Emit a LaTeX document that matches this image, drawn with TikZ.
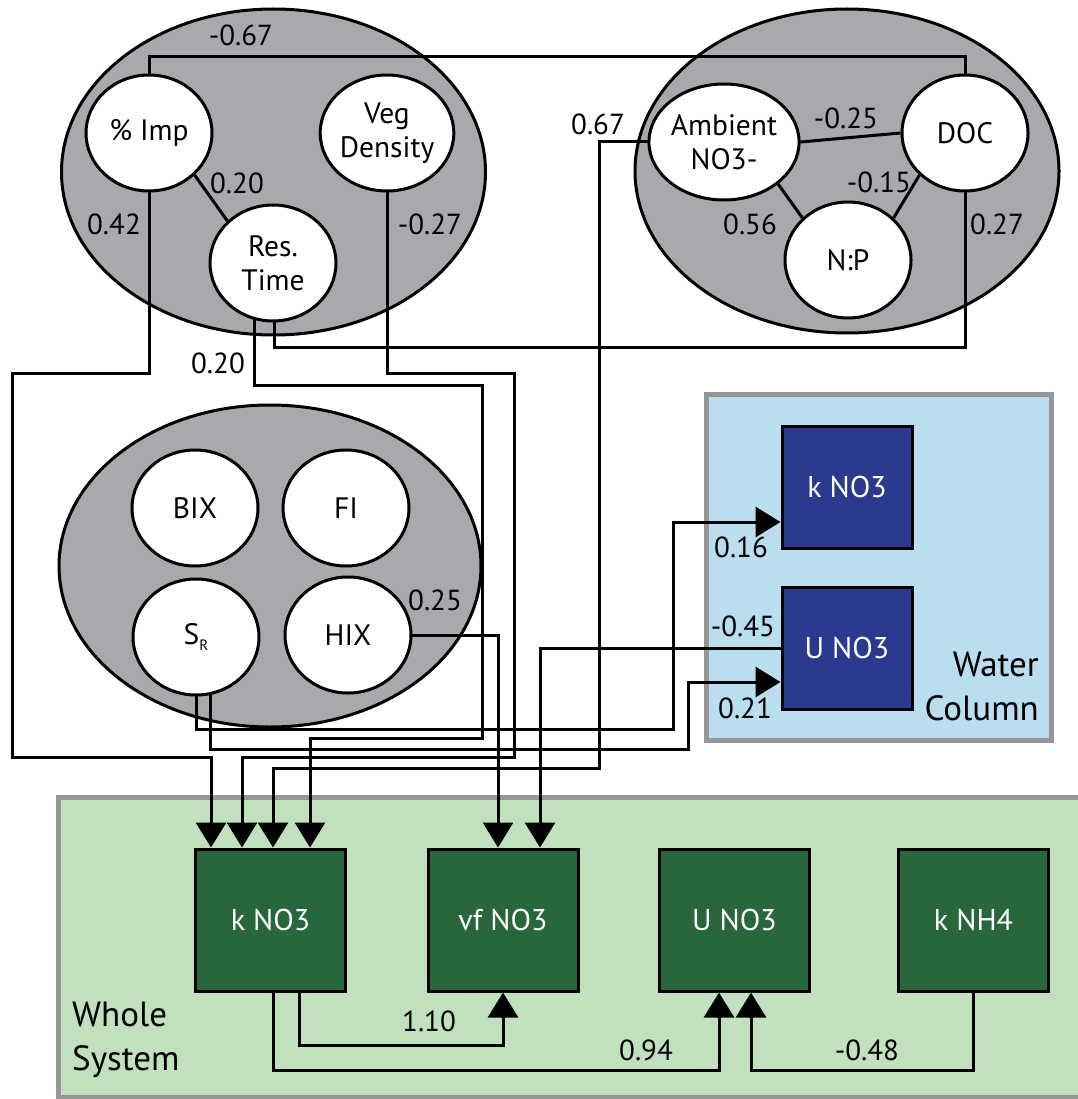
\documentclass[tikz,border=0pt]{standalone}
\usepackage{fontspec}
\setmainfont{PT Sans}
\usetikzlibrary{shapes.geometric,arrows.meta}
\pgfdeclarelayer{bg}\pgfdeclarelayer{mid}\pgfsetlayers{bg,mid,main}
\definecolor{ggray}{RGB}{167,169,172}
\definecolor{bgray}{RGB}{150,150,150}
\definecolor{lblue}{RGB}{185,222,240}
\definecolor{lgreen}{RGB}{193,224,190}
\definecolor{dgreen}{RGB}{39,103,59}
\definecolor{dblue}{RGB}{43,58,142}
\begin{document}
\begin{tikzpicture}[x=1pt,y=-1pt,
  nf/.style={font=\fontsize{29.5}{34}\selectfont},
  bf/.style={font=\fontsize{30}{34}\selectfont},
  circ/.style={ellipse,draw,line width=3pt,fill=white,minimum width=126pt,minimum height=116pt,inner sep=0pt,align=center,nf},
  grp/.style={ellipse,draw,line width=3pt,fill=ggray,inner sep=0pt},
  wbox/.style={draw,line width=3pt,fill=dgreen,text=white,minimum width=150pt,minimum height=142pt,inner sep=0pt,bf},
  cbox/.style={draw,line width=3pt,fill=dblue,text=white,minimum width=130pt,minimum height=122pt,inner sep=0pt,bf},
  panel/.style={draw=bgray,line width=5pt,inner sep=0pt},
  conn/.style={line width=3pt},
  arr/.style={conn,-{Triangle[length=25pt,width=30pt]}},
  lab/.style={font=\fontsize{29}{33}\selectfont,inner sep=0pt},
  bigt/.style={font=\fontsize{35}{44}\selectfont,inner sep=0pt}
]
\useasboundingbox (0,0) rectangle (1077,1099);

\begin{pgfonlayer}{bg}
\node[panel,fill=lblue,minimum width=345pt,minimum height=346pt] (wc) at (878.5,567) {};
\node[panel,fill=lgreen,minimum width=1024pt,minimum height=300pt] (ws) at (570,947) {};
\node[grp,minimum width=424pt,minimum height=326pt] (g1) at (273.5,172) {};
\node[grp,minimum width=424pt,minimum height=324pt] (g2) at (847,171) {};
\node[grp,minimum width=422pt,minimum height=322pt] (g3) at (270,566) {};
\end{pgfonlayer}

% circles
\node[circ] (imp) at (149,133) {\% Imp};
\node[circ] (veg) at (387,133) {Veg\\Density};
\node[circ] (res) at (273,263) {Res.\\Time};
\node[circ] (amb) at (724,142) {Ambient\\NO3-};
\node[circ] (doc) at (965,133) {DOC};
\node[circ] (np) at (848,260) {N:P};
\node[circ] (bix) at (195,508) {BIX};
\node[circ] (fi) at (346,508) {FI};
\node[circ] (sr) at (196,637) {S\raisebox{-0.45ex}{\fontsize{15}{15}\selectfont R}};
\node[circ] (hix) at (348,635) {HIX};

% boxes
\node[cbox] (ck) at (847,487) {k NO3};
\node[cbox] (cu) at (847,648) {U NO3};
\node[wbox] (wk) at (270.5,920) {k NO3};
\node[wbox] (wv) at (503,920) {vf NO3};
\node[wbox] (wu) at (734.5,920) {U NO3};
\node[wbox] (wn) at (973.5,920) {k NH4};

\node[bigt,align=right,anchor=east] (wctxt) at (1039,686) {Water\\Column};
\node[bigt,align=left,anchor=west] (wstxt) at (72,1040) {Whole\\System};

\begin{pgfonlayer}{mid}
% within groups
\draw[conn] (imp.south east) -- (res.north west);
\draw[conn] (amb.east) -- (doc.west);
\draw[conn] (amb.south east) -- (np.north west);
\draw[conn] (np.north east) -- (doc.south west);
% long connectors
\draw[conn] (imp.center) -- (149,57) -- (965,57) -- (doc.center);
\draw[conn] ([xshift=1pt]res.center) -- (274,347) -- (965,347) -- (doc.center);
\draw[arr] (imp.center) -- (149,373) -- (12,373) -- (12,757) -- (211,757) -- ([xshift=-59.5pt]wk.north);
\draw[arr] (veg.center) -- (387,373) -- (514,373) -- (514,757) -- (242,757) -- ([xshift=-28.5pt]wk.north);
\draw[arr] (amb.center) -- (599,142) -- (599,768) -- (273,768) -- ([xshift=2.5pt]wk.north);
\draw[arr] ([xshift=-19pt]res.center) -- (254,385) -- (482,385) -- (482,738) -- (310,738) -- ([xshift=39.5pt]wk.north);
\draw[arr] (sr.center) -- (196,729) -- (673,729) -- (673,522) -- ([yshift=-35pt]ck.west);
\draw[arr] ([xshift=14pt]sr.center) -- (210,749) -- (688,749) -- (688,682) -- ([yshift=-34pt]cu.west);
\draw[arr] (hix.center) -- (498,635) -- ([xshift=-5pt]wv.north);
\draw[arr] (cu.west) -- (540,648) -- ([xshift=37pt]wv.north);
\draw[arr] ([xshift=28.5pt]wk.south) -- (299,1045) -- (503,1045) -- (wv.south);
\draw[arr] ([xshift=2.5pt]wk.south) -- (273,1070) -- (719,1070) -- ([xshift=-15.5pt]wu.south);
\draw[arr] (wn.south) -- (973.5,1070) -- (751,1070) -- ([xshift=16.5pt]wu.south);
\end{pgfonlayer}

% labels
\node[lab] (l1) at (241,35) {-0.67};
\node[lab] (l2) at (237,183) {0.20};
\node[lab] (l3) at (114,224) {0.42};
\node[lab] (l4) at (430,224) {-0.27};
\node[lab] (l5) at (218,363) {0.20};
\node[lab] (l6) at (598,124) {0.67};
\node[lab] (l7) at (846,118) {-0.25};
\node[lab] (l8) at (879,182) {-0.15};
\node[lab] (l9) at (750,224) {0.56};
\node[lab] (l10) at (997,224) {0.27};
\node[lab] (l11) at (435,600) {0.25};
\node[lab] (l12) at (741,547) {0.16};
\node[lab] (l13) at (743,626) {-0.45};
\node[lab] (l14) at (745,708) {0.21};
\node[lab] (l15) at (429,1021) {1.10};
\node[lab] (l16) at (646,1050) {0.94};
\node[lab] (l17) at (867,1050) {-0.48};
\end{tikzpicture}
\end{document}
